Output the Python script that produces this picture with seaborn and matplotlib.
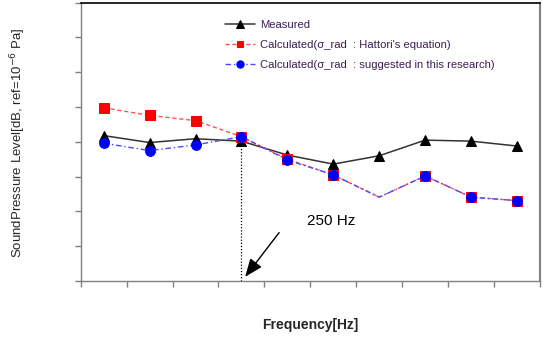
import matplotlib
matplotlib.use("Agg")
import matplotlib.pyplot as plt
import seaborn as sns
import numpy as np
import pandas as pd

# ---- data (y axis has no labels, arbitrary units 0..8) ----
band_index = [0, 1, 2, 3, 4, 5, 6, 7, 8, 9]
measured = [4.18, 3.98, 4.09, 4.02, 3.62, 3.36, 3.60, 4.05, 4.02, 3.88]
hattori = [4.98, 4.76, 4.61, 4.15, 3.50, 3.05, 2.41, 3.02, 2.41, 2.31]
suggested = [3.96, 3.75, 3.91, 4.15, 3.48, 3.05, 2.41, 3.02, 2.41, 2.31]
calc_marker_idx = [0, 1, 2, 3, 4, 5, 7, 8, 9]
label_measured = "Measured"
label_hattori = "Calculated(σ_rad  : Hattori's equation)"
label_suggested = "Calculated(σ_rad  : suggested in this research)"
mark_band = 3
annot_text = "250 Hz"

sns.set_theme(style="white")
plt.rcParams["font.family"] = ["Liberation Sans", "DejaVu Sans"]

fig = plt.figure(figsize=(5.47, 3.38), dpi=100)
ax = fig.add_axes([80.7 / 547, 1 - 281 / 338, (540 - 80.7) / 547, (281 - 2.7) / 338])

sns.lineplot(x=band_index, y=measured, ax=ax, color="#333333", lw=1.1,
             marker="^", markersize=7, markerfacecolor="black",
             markeredgecolor="black", label=label_measured)
sns.lineplot(x=band_index, y=hattori, ax=ax, color="#ff5050", lw=1.0,
             linestyle=(0, (3, 2)), marker="s", markersize=6.5,
             markerfacecolor="#ff0000", markeredgecolor="#ff0000",
             markevery=calc_marker_idx, label=label_hattori)
sns.lineplot(x=band_index, y=suggested, ax=ax, color="#4a4aff", lw=1.0,
             linestyle=(0, (4, 2, 1, 2)), marker="o", markersize=7,
             markerfacecolor="#0000ff", markeredgecolor="#0000ff",
             markevery=calc_marker_idx, label=label_suggested)

# dotted guide at 250 Hz band
ax.plot([mark_band, mark_band], [0, measured[mark_band]], color="black",
        lw=0.9, linestyle=(0, (1, 1.5)), zorder=1)

ax.annotate("", xy=(3.08, 0.12), xytext=(3.82, 1.39),
            arrowprops=dict(arrowstyle="-|>,head_length=0.55,head_width=0.22",
                            mutation_scale=20, color="black", lw=1.0,
                            shrinkA=0, shrinkB=0))
ax.text(4.96, 1.73, annot_text, fontsize=11, ha="center", va="center",
        color="black")

ax.set_xlim(-0.5, 9.5)
ax.set_ylim(0, 8)
ax.set_xticks(np.arange(-0.5, 10, 1))
ax.set_yticks(np.arange(0, 8.5, 1))
ax.set_xticklabels([])
ax.set_yticklabels([])
ax.tick_params(axis="both", which="both", direction="out", length=4,
               width=1, color="#808080", bottom=True, left=True)

for side in ["left", "bottom"]:
    ax.spines[side].set_color("#808080")
    ax.spines[side].set_linewidth(1.0)
ax.spines["top"].set_color("black")
ax.spines["top"].set_linewidth(1.2)
ax.spines["right"].set_color("#808080")
ax.spines["right"].set_linewidth(1.5)

ax.set_xlabel("")
ax.set_ylabel("")
fig.text(310 / 547, 1 - 324.5 / 338, "Frequency[Hz]", fontsize=10,
         fontweight="bold", ha="center", va="center")
fig.text(18 / 547, 1 - 143 / 338, "SoundPressure Level[dB, ref=10$^{-6}$ Pa]",
         fontsize=9.5, rotation=90, ha="center", va="center")

leg = ax.legend(loc="upper left", bbox_to_anchor=(225 / 547, 1 - 19.5 / 338),
                bbox_transform=fig.transFigure, frameon=False, fontsize=8.1,
                handlelength=2.7, handletextpad=0.45, labelspacing=0.9,
                borderpad=0, borderaxespad=0, markerscale=0.75)
for t in leg.get_texts():
    t.set_color("#3a2050")

fig.savefig("out.png", dpi=100)
